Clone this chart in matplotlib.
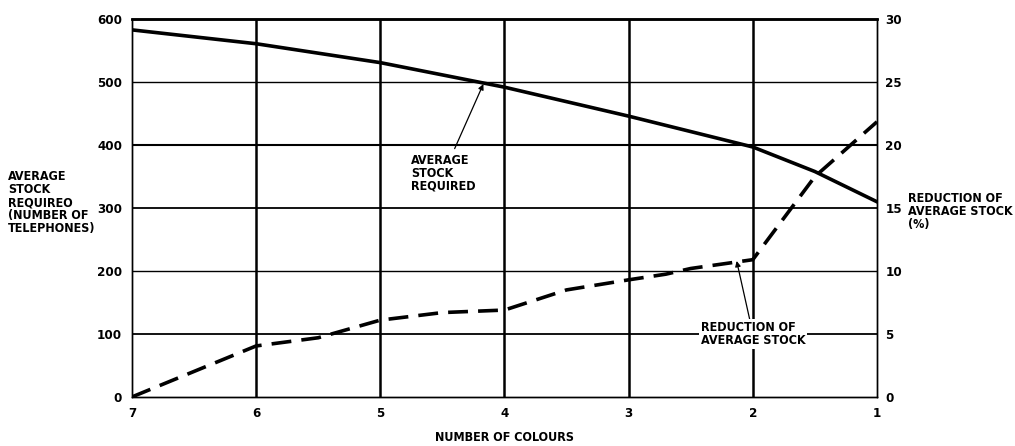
import matplotlib.pyplot as plt

# data
colours = [7, 6, 5, 4, 3, 2, 1.5, 1]
avg_stock = [583, 561, 531, 492, 446, 397, 358, 310]

red_colours = [7, 6, 5.5, 5, 4.5, 4, 3.5, 3, 2.7, 2.5, 2, 1.5, 1]
reduction = [0, 4.05, 4.7, 6.1, 6.7, 6.9, 8.5, 9.3, 9.75, 10.2, 10.9, 17.5, 21.85]

x_ticks = [7, 6, 5, 4, 3, 2, 1]
left_ticks = [0, 100, 200, 300, 400, 500, 600]
right_ticks = [0, 5, 10, 15, 20, 25, 30]

plt.rcParams["font.family"] = ["DejaVu Sans"]
plt.rcParams["font.stretch"] = "condensed"
plt.rcParams["font.weight"] = "bold"
plt.rcParams["axes.labelweight"] = "bold"

FS = 9


def main():
    fig = plt.figure(figsize=(10.15, 4.46), dpi=100)
    ax = fig.add_axes([0.130, 0.110, 0.734, 0.847])
    ax2 = ax.twinx()

    ax.set_xlim(7, 1)
    ax.set_ylim(0, 600)
    ax2.set_ylim(0, 30)

    # grid
    for x in x_ticks[1:-1]:
        ax.axvline(x, color="black", lw=1.8, zorder=1)
    for y, w in zip(left_ticks[1:-1], [1.3, 1.0, 1.3, 1.5, 1.0]):
        ax.axhline(y, color="black", lw=w, zorder=1)

    for s in ["left", "right", "bottom"]:
        ax.spines[s].set_linewidth(1.0)
        ax2.spines[s].set_linewidth(1.0)
    ax.spines["top"].set_linewidth(1.8)
    ax2.spines["top"].set_linewidth(1.8)

    ax.plot(colours, avg_stock, color="black", lw=2.6, zorder=3)
    ax2.plot(red_colours, reduction, color="black", lw=2.6,
             dashes=(5.5, 2.8), zorder=3)

    ax.set_xticks(x_ticks)
    ax.set_yticks(left_ticks)
    ax2.set_yticks(right_ticks)
    ax.tick_params(length=0, labelsize=FS + 0.5, pad=7)
    ax2.tick_params(length=0, labelsize=FS + 0.5, pad=6)

    ax.set_xlabel("NUMBER OF COLOURS", fontsize=FS, labelpad=8)

    fig.text(0.008, 0.545, "AVERAGE\nSTOCK\nREQUIREO\n(NUMBER OF\nTELEPHONES)",
             fontsize=FS, ha="left", va="center", linespacing=1.0)
    fig.text(0.895, 0.525, "REDUCTION OF\nAVERAGE STOCK\n(%)",
             fontsize=FS, ha="left", va="center", linespacing=1.0)

    ax.annotate("AVERAGE\nSTOCK\nREQUIRED", xy=(4.17, 497), xytext=(4.75, 355),
                fontsize=FS, ha="left", va="center", linespacing=1.0,
                arrowprops=dict(arrowstyle="-|>", color="black", lw=0.9,
                                shrinkA=2, shrinkB=0, mutation_scale=8),
                zorder=4)
    ax2.annotate("REDUCTION OF\nAVERAGE STOCK", xy=(2.13, 10.8), xytext=(2.42, 5.0),
                 fontsize=FS, ha="left", va="center", linespacing=1.0,
                 bbox=dict(boxstyle="square,pad=0.15", fc="white", ec="none"),
                 arrowprops=dict(arrowstyle="-|>", color="black", lw=0.9,
                                 shrinkA=0, shrinkB=0, mutation_scale=8),
                 zorder=5)

    fig.savefig("out.png", dpi=100, facecolor="white")


if __name__ == "__main__":
    main()
